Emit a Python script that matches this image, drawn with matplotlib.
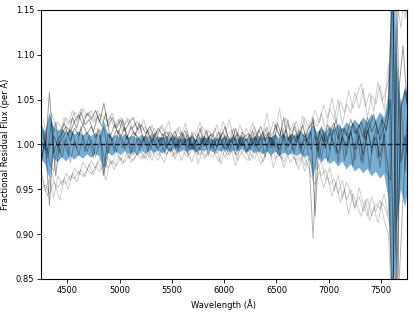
import numpy as np
import matplotlib
matplotlib.use('Agg')
import matplotlib.pyplot as plt

# wavelength grids (Angstrom)
wavelength = [4250, 4290, 4330, 4370, 4410, 4450, 4490, 4530, 4570, 4610,
              4650, 4690, 4730, 4770, 4810, 4850, 4890, 4930, 4970, 5010,
              5050, 5090, 5130, 5170, 5210, 5250, 5290, 5330, 5370, 5410,
              5450, 5490, 5530, 5570, 5610, 5650, 5690, 5730, 5770, 5810,
              5850, 5890, 5930, 5970, 6010, 6050, 6090, 6130, 6170, 6210,
              6250, 6290, 6330, 6370, 6410, 6450, 6490, 6530, 6570, 6610,
              6650, 6690, 6730, 6770, 6810, 6850, 6890, 6930, 6970, 7010,
              7050, 7090, 7130, 7170, 7210, 7250, 7290, 7330, 7370, 7410,
              7450, 7490, 7530, 7570, 7610, 7650, 7690, 7730, 7770]
wavelength_b = [4270, 4310, 4350, 4390, 4430, 4470, 4510, 4550, 4590, 4630,
                4670, 4710, 4750, 4790, 4830, 4870, 4910, 4950, 4990, 5030,
                5070, 5110, 5150, 5190, 5230, 5270, 5310, 5350, 5390, 5430,
                5470, 5510, 5550, 5590, 5630, 5670, 5710, 5750, 5790, 5830,
                5870, 5910, 5950, 5990, 6030, 6070, 6110, 6150, 6190, 6230,
                6270, 6310, 6350, 6390, 6430, 6470, 6510, 6550, 6590, 6630,
                6670, 6710, 6750, 6790, 6830, 6870, 6910, 6950, 6990, 7030,
                7070, 7110, 7150, 7190, 7230, 7270, 7310, 7350, 7390, 7430,
                7470, 7510, 7550, 7590, 7630, 7670, 7710, 7750]

# residuals in units of 0.001 around 1.0 (on wavelength grid)
dark_1 = [4, -6, 58, -10, 6,
          12, 20, 14, 26, 33, 22, 35, 28, 38, 25,
          46,
          20, 30, 18, 27, 15, 24, 30, 16, 22,
          12, 20, 8, 18, 10, 14,
          6, 15, 2, 12, -4, 10, 3, 18, -2, 8,
          12, -3, 9, 20, 1, 10, -5, 14, 4, 11,
          -2, 16, 6, 12, 0, 22, 9, 30, 4, 12,
          2, 15, 8, 18,
          25,
          5, 20, 3, 14, 24, 6, 18, 10, 28, 12,
          22, 8, 30, 14, 25, 5, 20,
          40, 200, -150,
          40, 60, 30]
dark_2 = [-20, 5, -68, 10, -2,
          6, 15, 4, 18, 10, 22, 12, 20, 8, 17,
          -35,
          12, 5, 16, 8, 19, 4, 14, 9, 2,
          10, -2, 12, 3, 8, -4,
          7, -3, 9, 0, 11, -6, 5, -1, 8, 2,
          -4, 6, 0, 10, -6, 4, 12, -2, 7, -5,
          9, 1, 14, -3, 8, 0, -6, 10, -3, 6,
          12, -4, 6, 0,
          30,
          -8, 10, -4, 12, 2, -10, 8, -2, 14, -6,
          10, -12, 16, -4, 8, -14, 12,
          -30, -200, 150,
          -20, 10, -40]
mid_1 = [-25, 12, -20, -30, 0,
         -15, 8, -20, 4, -12, 10, -8, 5, -14, 2,
         20,
         -10, 6, -8, 12, -5, 4, -12, 8, -3,
         5, -10, 9, -6, 12, -2,
         -8, 10, -4, 6, -10, 14, 0, -6, 9, -12,
         6, -2, 12, -8, 4, 18, -6, 10, -10, 3,
         14, -9, 5, 20, -4, 12, -12, 6, 28, -6,
         10, -8, 14, -14,
         -105,
         8, -16, 12, -6, 20, -20, 10, -12, 16, -18,
         14, -22, 24, -10, 18, -26, 8,
         30, 200, -200,
         50, -30, 70]
light_1 = [-50, -45, -55, -42, -48,
           -40, -44, -35, -38, -30, -36, -28, -33, -25, -30,
           -22,
           -26, -18, -24, -15, -20, -12, -18, -10, -16,
           -8, -14, -6, -12, -3, -10,
           -5, -12, 2, -8, -14, 0, -9, -3, -16, -6,
           3, -10, -4, -15, 0, -8, -12, 2, -6, -18,
           -4, 6, -10, -2, -14, 4, -8, -20, -6, -12,
           -18, -8, -24, -10,
           -30,
           -20, -35, -28, -45, -38, -55, -40, -62, -50, -70,
           -58, -75, -60, -80, -66, -72, -55,
           -80, 200, 160,
           130, 180, 110]
light_2 = [22, 10, 30, 15, 25,
           18, 30, 24, 36, 28, 40, 32, 38, 26, 34,
           30,
           25, 35, 20, 30, 22, 28, 18, 26, 15,
           20, 8, 18, 12, 22, 6,
           14, 4, 20, 8, 15, -2, 12, 25, 5, 16,
           8, 22, 3, 12, 28, 6, 14, -1, 18, 9,
           20, 4, 12, 35, 10, 18, 40, 8, 22, 14,
           26, 10, 30, 18,
           28,
           20, 35, 15, 40, 28, 50, 22, 45, 35, 58,
           40, 62, 30, 55, 45, 66, 38,
           90, -200, 120,
           200, 140, 180]
light_3 = [-30, -52, -38, -60, -35,
           -45, -32, -40, -26, -34, -20, -28, -18, -26, -15,
           -32,
           -14, -22, -8, -18, -6, -16, -2, -12, -8,
           -16, 0, -10, -18, -4, -12,
           -2, -16, -6, 4, -10, -20, -4, -12, 2, -8,
           -14, -6, -22, -2, -12, -4, -18, -8, 0, -10,
           -16, -4, -20, -8, 2, -16, -10, -26, -12, -4,
           -22, -14, -30, -16,
           -20,
           -28, -18, -40, -25, -52, -34, -60, -42, -55, -72,
           -48, -66, -80, -58, -75, -62, -85,
           -100, -200, 100,
           -40, 60, 20]

# residuals on wavelength_b grid
dark_3 = [15, -10, 25, -35, 5,
          24, 10, 30, 18, 36, 22, 28, 14, 32, 20,
          35,
          8, 22, 12, 28, 6, 20, 10, 24, 4,
          16, 2, 14, -2, 12, 0,
          10, -4, 14, 2, 8, -6, 12, 0, 16, -2,
          6, 14, -4, 10, 2, 18, -2, 8, 12, 0,
          10, 20, 4, 14, -2, 24, 8, 16, 2, 20,
          6, 22, 4, 14,
          -80,
          16, 4, 22, 10, 28, 0, 18, 6, 24, 12,
          26, 6, 20, 34, 12, 28, 16,
          50, -200, 60,
          110, 45]
mid_2 = [10, -15, 5, 25, -10,
         5, -12, 15, -5, 20, -8, 10, -15, 18, 0,
         -25,
         12, -8, 16, -4, 10, -12, 14, -6, 8,
         -8, 12, -4, 8, -10, 14,
         4, -10, 8, 16, -6, 4, -12, 10, -2, 12,
         -10, 4, 14, -4, 8, -12, 10, 0, -8, 16,
         -4, 10, -14, 8, 2, -10, 18, -6, 12, -10,
         16, -12, 8, -6,
         10,
         -14, 14, -20, 8, -10, 22, -18, 12, -24, 16,
         -20, 18, -28, 10, -16, 30, -30,
         -40, 200, -160,
         -60, 30]
light_4 = [-40, -58, -30, -48, -62,
           -38, -50, -32, -42, -28, -36, -22, -34, -20, -28,
           -40,
           -18, -28, -12, -22, -8, -20, -14, -4, -16,
           -6, -18, -2, -12, -20, -4,
           -14, 0, -18, -6, -12, 2, -22, -8, -14, -2,
           -10, -20, 0, -12, -6, -24, -4, -14, -18, 2,
           -8, -22, -12, 0, -26, -10, -16, -4, -20, -14,
           -28, -12, -20, -34,
           -45,
           -30, -48, -36, -58, -42, -65, -50, -78, -55, -68,
           -80, -62, -85, -70, -88, -64, -75,
           -90, 200, 180,
           200, 150]
light_5 = [28, 5, 35, 20, 12,
           30, 22, 38, 25, 40, 30, 36, 24, 38, 28,
           20,
           32, 18, 28, 14, 30, 16, 24, 12, 28,
           10, 22, 6, 20, 14, 26,
           4, 18, 10, 24, 0, 14, 6, 20, 12, 2,
           18, 6, 26, 10, 16, 2, 22, 12, 6, 24,
           12, 2, 18, 8, 26, 14, 6, 30, 16, 24,
           10, 32, 14, 26,
           38,
           24, 44, 30, 52, 26, 48, 36, 60, 40, 55,
           68, 42, 58, 36, 70, 48, 62,
           80, 200, 200,
           160, 200]

# model uncertainty band (units of 0.001, wavelength grid)
band_hi = [22, 14, 35, 20, 15,
           18, 12, 17, 11, 15, 10, 14, 9, 13, 10,
           25,
           12, 8, 11, 7, 12, 8, 10, 6, 11,
           8, 10, 6, 9, 7, 10,
           6, 9, 5, 8, 6, 9, 5, 8, 6, 9,
           5, 8, 6, 9, 5, 8, 6, 9, 5, 8,
           7, 10, 6, 9, 8, 11, 7, 12, 8, 11,
           9, 13, 10, 14,
           22,
           13, 18, 14, 20, 16, 23, 17, 25, 20, 28,
           22, 30, 25, 34, 27, 36, 30,
           55, 200, 90,
           45, 65, 50]
band_lo = [-16, -22, -38, -15, -20,
           -14, -19, -13, -17, -12, -16, -11, -15, -10, -14,
           -28,
           -9, -13, -8, -12, -7, -11, -8, -12, -7,
           -10, -6, -9, -7, -10, -6,
           -8, -5, -9, -6, -8, -5, -9, -6, -8, -5,
           -9, -6, -8, -5, -9, -6, -8, -5, -9, -6,
           -10, -7, -11, -8, -12, -8, -13, -9, -12, -10,
           -13, -10, -15, -11,
           -40,
           -14, -20, -15, -22, -18, -25, -19, -28, -22, -30,
           -26, -32, -27, -36, -30, -38, -33,
           -60, -200, -90,
           -50, -70, -45]

wl = np.array(wavelength)
wlb = np.array(wavelength_b)


def res(v):
    return 1 + np.array(v) / 1000.0


fig = plt.figure(figsize=(4.15, 3.12), dpi=100)
ax = fig.add_axes([0.099, 0.106, 0.881, 0.862])

for s in [light_1, light_2, light_3]:
    ax.plot(wl, res(s), color='k', alpha=0.2, lw=0.7, zorder=1)
for s in [light_4, light_5]:
    ax.plot(wlb, res(s), color='k', alpha=0.2, lw=0.7, zorder=1)

ax.fill_between(wl, res(band_lo), res(band_hi), color='#1f77b4', alpha=0.6,
                lw=0, zorder=2)

ax.plot(wl, res(mid_1), color='k', alpha=0.3, lw=0.7, zorder=3)
ax.plot(wlb, res(mid_2), color='k', alpha=0.3, lw=0.7, zorder=3)
for s in [dark_1, dark_2]:
    ax.plot(wl, res(s), color='k', alpha=0.4, lw=0.7, zorder=3)
ax.plot(wlb, res(dark_3), color='k', alpha=0.4, lw=0.7, zorder=3)

ax.axhline(1.0, color='#0d1b2a', ls='--', lw=1.0, zorder=4)

ax.set_xlim(4250, 7745)
ax.set_ylim(0.85, 1.15)
ax.set_xticks([4500, 5000, 5500, 6000, 6500, 7000, 7500])
ax.set_yticks([0.85, 0.90, 0.95, 1.00, 1.05, 1.10, 1.15])
ax.tick_params(labelsize=6, length=3, width=0.6, pad=2)
ax.set_xlabel('Wavelength (Å)', fontsize=6, labelpad=3)
ax.set_ylabel('Fractional Residual Flux (per Å)', fontsize=6, labelpad=4)
for sp in ax.spines.values():
    sp.set_linewidth(0.8)

fig.savefig('out.png', dpi=100)
